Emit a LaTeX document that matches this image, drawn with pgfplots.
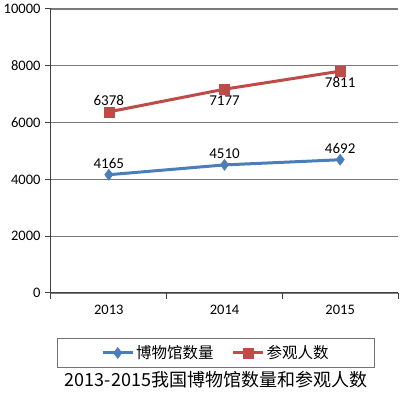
\documentclass[border=0pt]{standalone}
\usepackage{pgfplots}
\pgfplotsset{compat=1.18}
\usepackage{fontspec}
\setmainfont{Carlito}
\newfontfamily\cjk{Noto Sans CJK SC}
\definecolor{myblue}{HTML}{4A7EBB}
\definecolor{myred}{HTML}{BE4B48}
\definecolor{gridgray}{HTML}{7A7A7A}
\begin{document}
\begin{tikzpicture}
\path[use as bounding box] (-51pt,-102pt) rectangle (361pt,293pt);
\begin{axis}[
  at={(0,0)}, anchor=south west,
  scale only axis, width=347pt, height=284pt,
  xmin=-0.5, xmax=2.5, ymin=0, ymax=10000,
  axis x line*=bottom, axis y line*=left,
  axis line style={-, draw=black!75, line width=1pt},
  xtick={-0.5,0.5,1.5,2.5}, xticklabels={},
  extra x ticks={0,1,2}, extra x tick labels={2013,2014,2015},
  extra x tick style={major tick length=0pt, grid=none},
  ytick={0,2000,...,10000},
  scaled y ticks=false,
  yticklabel style={/pgf/number format/1000 sep={}},
  /pgf/number format/assume math mode=true,
  tick align=outside, major tick length=6pt,
  tick style={draw=black!75, line width=1pt},
  ymajorgrids, major grid style={draw=gridgray, line width=1.1pt},
  ticklabel style={font=\fontsize{14.5}{15}\selectfont},
  yticklabel style={xshift=-1pt},
  xticklabel style={yshift=-9pt},
  legend columns=2,
  legend style={at={(0.4755,-0.211)}, anchor=center,
    draw=black!55, line width=0.6pt, inner xsep=44pt, inner ysep=5pt,
    font=\cjk\fontsize{15.5}{16}\selectfont,
    /tikz/every even column/.append style={column sep=16pt}},
  legend image code/.code={\draw[mark repeat=2,mark phase=2] plot coordinates {(0pt,0pt)(15pt,0pt)(30pt,0pt)};},
  clip=false,
]
\addplot[color=myblue, line width=3pt, mark=diamond*, mark size=5.5pt, mark options={fill=myblue, draw=myblue, line width=0.5pt}]
  coordinates {(0,4165) (1,4510) (2,4692)};
\addlegendentry{博物馆数量}
\addplot[color=myred, line width=3pt, mark=square*, mark size=5pt, mark options={fill=myred, draw=myred, line width=0.5pt}]
  coordinates {(0,6378) (1,7177) (2,7811)};
\addlegendentry{参观人数}
% data labels
\addplot[forget plot, draw=none, mark=none, nodes near coords,
  every node near coord/.append style={font=\fontsize{15}{15}\selectfont, anchor=south, inner sep=6pt, text=black,
  /pgf/number format/1000 sep={}}]
  coordinates {(0,4165) (1,4510) (2,4692) (0,6378)};
\addplot[forget plot, draw=none, mark=none, nodes near coords,
  every node near coord/.append style={font=\fontsize{15}{15}\selectfont, anchor=north, inner sep=6pt, text=black,
  /pgf/number format/1000 sep={}}]
  coordinates {(1,7177) (2,7811)};
\end{axis}
\node at (165pt,-87pt) {\cjk\fontsize{18}{19}\selectfont 2013-2015我国博物馆数量和参观人数};
\end{tikzpicture}
\end{document}
